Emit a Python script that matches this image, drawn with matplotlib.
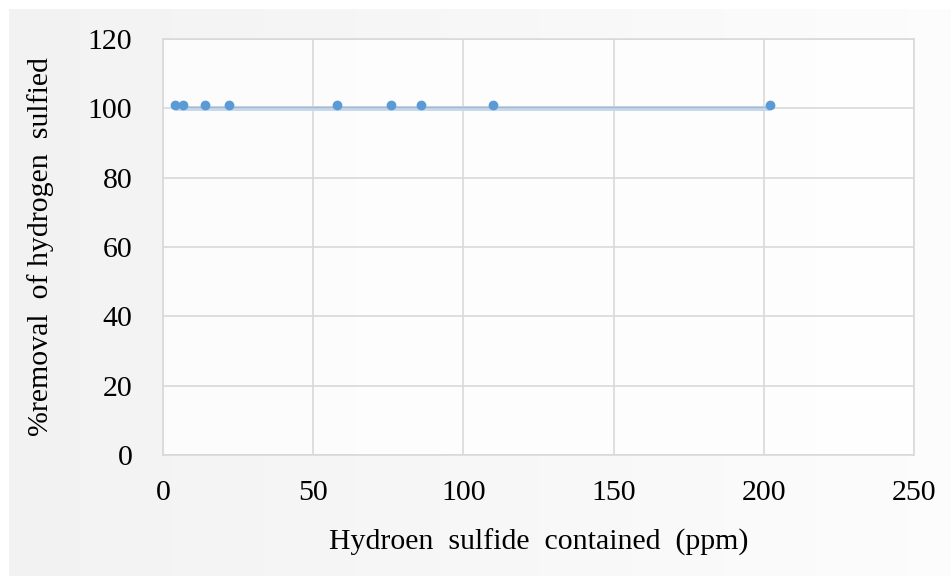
import matplotlib.pyplot as plt
import numpy as np

# data
h2s_ppm = [4, 6.5, 14, 22, 58, 76, 86, 110, 202]
removal = [101, 101, 101, 101, 101, 101, 101, 101, 101]
trend_x = [4, 202]
trend_y = [100, 100]

x_ticks = [0, 50, 100, 150, 200, 250]
y_ticks = [0, 20, 40, 60, 80, 100, 120]

plt.rcParams['font.family'] = ['Liberation Serif', 'DejaVu Serif']

fig = plt.figure(figsize=(9.53, 5.76), dpi=100)
W, H = 953, 576

# light grey chart-area background with a soft gradient
bg = fig.add_axes([9 / W, 0, 942 / W, 1 - 9 / H], zorder=-10)
grad = np.linspace(0.95, 0.99, 256).reshape(1, -1)
bg.imshow(np.dstack([grad, grad, grad]), aspect='auto', extent=[0, 1, 0, 1])
bg.set_axis_off()

left, right, top, bottom = 163, 914, 39, 455
ax = fig.add_axes([left / W, 1 - bottom / H, (right - left) / W, (bottom - top) / H])
ax.set_facecolor((1, 1, 1, 0.8))

ax.plot(trend_x, trend_y, color='#c5d7ec', lw=3.5, zorder=3, solid_capstyle='butt')
ax.plot(trend_x, [v + 0.4 for v in trend_y], color='#a9b9ca', lw=1.0, zorder=3)
ax.plot(h2s_ppm, removal, 'o', color='#5b9bd5', markersize=6, zorder=4)

ax.set_xlim(0, 250)
ax.set_ylim(0, 120)
ax.set_xticks(x_ticks)
ax.set_yticks(y_ticks)
ax.grid(True, color='#d9d9d9', lw=1.2)
ax.set_axisbelow(True)
for s in ax.spines.values():
    s.set_color('#d9d9d9')
    s.set_linewidth(1.2)
ax.tick_params(length=0, labelsize=21.5, colors='black')
ax.tick_params(axis='y', pad=22)
ax.tick_params(axis='x', pad=18)

ax.set_xlabel('Hydroen  sulfide  contained  (ppm)', fontsize=21.5, labelpad=16)
ax.set_ylabel('%removal  of hydrogen  sulfied', fontsize=21.5, labelpad=24)

fig.savefig('out.png', dpi=100)
